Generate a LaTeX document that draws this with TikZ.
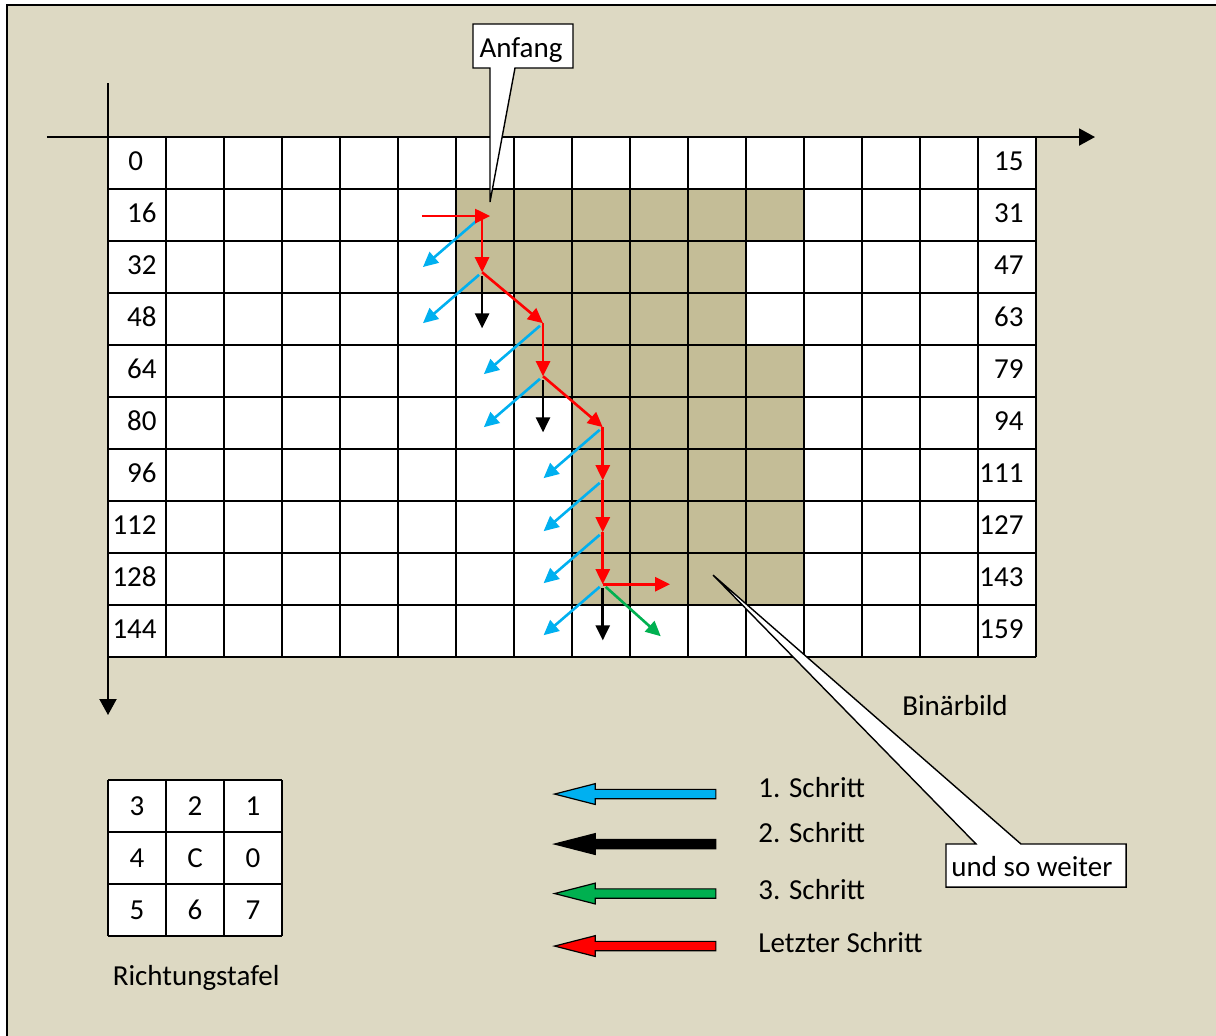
\documentclass[tikz,border=0pt]{standalone}
\usepackage{fontspec}
\setmainfont{Carlito}
\usetikzlibrary{arrows.meta}
\definecolor{hintergrund}{HTML}{DDD9C3}
\definecolor{binaer}{HTML}{C4BD97}
\definecolor{hellblau}{HTML}{00B0F0}
\definecolor{gruen}{HTML}{00B050}
\newcommand{\legendpfeil}[2]{%
    \draw[legende, #1] (10.48, #2+0.09) -- (8.4, #2+0.09) -- (8.4, #2+0.2)
        -- (7.7, #2) -- (8.4, #2-0.2) -- (8.4, #2-0.09) -- (10.48, #2-0.09) -- cycle;}

\begin{document}
\begin{tikzpicture}[x=29pt, y=26pt,
        every node/.style={font=\fontsize{14.5}{17}\selectfont, inner sep=0pt},
        pfeil/.style={line width=1.3pt, -{Triangle[length=7.5pt, width=7pt]}},
        schritteins/.style={pfeil, hellblau, shorten <=2pt},
        schrittzwei/.style={pfeil, black, shorten <=2pt},
        schrittdrei/.style={pfeil, gruen, shorten <=2pt},
        letzter/.style={pfeil, red},
        achse/.style={line width=1pt, -{Triangle[length=8pt, width=8.5pt]}},
        gitter/.style={line width=1pt},
        legende/.style={draw=black, line width=0.6pt},
        sprechblase/.style={draw=black, fill=white, line width=0.7pt}]
        \useasboundingbox (-1.862, 2.635) rectangle (19.103, -17.269);
        \clip (-1.862, 2.635) rectangle (19.103, -17.269);
        \filldraw[fill=hintergrund, line width=0.8pt] (-1.741, 2.538) rectangle (20, -18);

        % Binaerbild
        \fill[white] (0, 0) rectangle (16, -10);
        \foreach \r/\a/\b in {1/6/12, 2/6/11, 3/7/11, 4/7/12, 5/8/12, 6/8/12, 7/8/12, 8/8/12}
            \fill[binaer] (\a, -\r) rectangle (\b, -\r-1);
        \foreach \r in {0,...,10}
            \draw[gitter] (0, -\r) -- (16, -\r);
        \foreach \s in {0,...,16}
            \draw[gitter] (\s, 0) -- (\s, -10);

        \coordinate (xanfang) at (-1.052, 0);
        \coordinate (xende) at (17.017, 0);
        \coordinate (yanfang) at (0, 1.038);
        \coordinate (yende) at (0, -11.115);
        \draw[achse] (xanfang) -- (xende);
        \draw[achse] (yanfang) -- (yende);

        \node[anchor=west] (z0) at (0.345, -0.46) {0};
        \foreach \n [count=\r] in {16,32,...,144}
            \node[anchor=east] (z\n) at (0.845, -\r-0.46) {\n};
        \foreach \n [count=\r from 0] in {15,31,47,63,79,94,111,127,143,159}
            \node[anchor=east] (z\n) at (15.79, -\r-0.46) {\n};

        % Konturverfolgung
        \coordinate (rein) at (5.41, -1.52);
        \coordinate (p0) at (6.45, -1.52);
        \coordinate (p1) at (6.45, -2.6);
        \coordinate (p2) at (7.5, -3.58);
        \coordinate (p3) at (7.5, -4.6);
        \coordinate (p4) at (8.53, -5.58);
        \coordinate (p5) at (8.53, -6.6);
        \coordinate (p6) at (8.53, -7.6);
        \coordinate (p7) at (8.53, -8.6);
        \coordinate (raus) at (9.69, -8.6);

        \foreach \i in {0,...,7}
            \draw[schritteins] (p\i) -- ++(-1.02, -0.98);
        \foreach \i in {1,3,7}
            \draw[schrittzwei] (p\i) -- ++(0, -1.08);
        \draw[schrittdrei] (p7) -- ++(1.0, -1.0);
        \draw[letzter, shorten >=-4pt] (rein) -- (p0);
        \foreach \a/\b in {p0/p1, p1/p2, p2/p3, p3/p4, p4/p5, p5/p6, p6/p7, p7/raus}
            \draw[letzter] (\a) -- (\b);

        % Sprechblasen
        \draw[sprechblase] (6.293, 1.327) -- (6.586, 1.327) -- (6.586, -1.25) -- (7.017, 1.327)
            -- (8.017, 1.327) -- (8.017, 2.173) -- (6.293, 2.173) -- cycle;
        \node (anfang) at (7.121, 1.673) {Anfang};
        \draw[sprechblase] (14.448, -13.596) -- (14.966, -13.596) -- (10.431, -8.423) -- (15.741, -13.596)
            -- (17.552, -13.596) -- (17.552, -14.423) -- (14.448, -14.423) -- cycle;
        \node (weiter) at (15.93, -14.03) {und so weiter};
        \node (binaerbild) at (14.603, -10.94) {Binärbild};

        % Richtungstafel
        \begin{scope}[shift={(0, -12.365)}]
            \fill[white] (0, 0) rectangle (3, -3);
            \foreach \r in {0,...,3}
                \draw[gitter] (0, -\r) -- (3, -\r);
            \foreach \s in {0,...,3}
                \draw[gitter] (\s, 0) -- (\s, -3);
            \foreach \ta/\tb/\tc [count=\r from 0] in {3/2/1, 4/C/0, 5/6/7} {
                \node (rt\ta) at (0.5, -\r-0.5) {\ta};
                \node (rt\tb) at (1.5, -\r-0.5) {\tb};
                \node (rt\tc) at (2.5, -\r-0.5) {\tc};
            }
        \end{scope}
        \node (tafel) at (1.52, -16.17) {Richtungstafel};

        % Legende
        \legendpfeil{fill=hellblau}{-12.635}
        \legendpfeil{fill=black}{-13.596}
        \legendpfeil{fill=gruen}{-14.548}
        \legendpfeil{fill=red}{-15.558}
        \node[anchor=base west] (leg1) at (11.207, -12.692) {1. Schritt};
        \node[anchor=base west] (leg2) at (11.207, -13.558) {2. Schritt};
        \node[anchor=base west] (leg3) at (11.207, -14.654) {3. Schritt};
        \node[anchor=base west] (leg4) at (11.207, -15.673) {Letzter Schritt};
\end{tikzpicture}
\end{document}
